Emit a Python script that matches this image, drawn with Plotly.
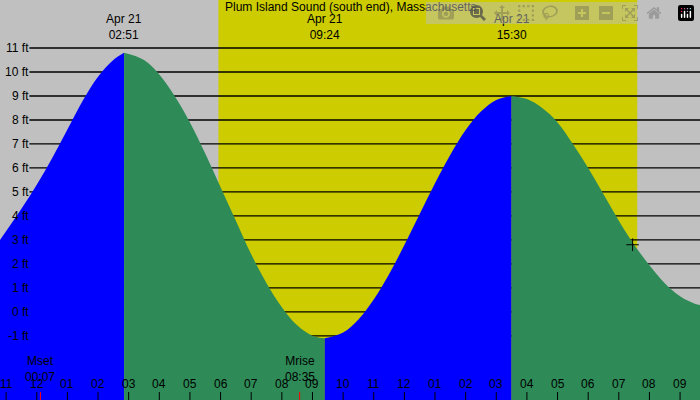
import plotly.graph_objects as go

# tide heights (ft), hours since 00:00 Apr 21
rise1_t = [-1.2, -0.5, 0, 0.5, 1, 1.5, 2, 2.5, 2.85]
rise1_h = [3.0, 4.3, 5.3, 6.4, 7.6, 8.8, 9.8, 10.5, 10.8]
fall1_t = [2.85, 3.5, 4, 4.5, 5, 5.5, 6, 6.5, 7, 7.5, 8, 8.5, 9, 9.4]
fall1_h = [10.8, 10.5, 9.9, 9.0, 7.9, 6.6, 5.2, 3.8, 2.4, 1.2, 0.2, -0.56, -0.99, -1.1]
rise2_t = [9.4, 10, 10.5, 11, 11.5, 12, 12.5, 13, 13.5, 14, 14.5, 15, 15.5]
rise2_h = [-1.1, -0.86, -0.31, 0.52, 1.57, 2.79, 4.08, 5.36, 6.55, 7.58, 8.35, 8.83, 9.0]
fall2_t = [15.5, 16, 16.5, 17, 17.5, 18, 18.5, 19, 19.5, 20, 20.5, 21, 21.5, 21.7]
fall2_h = [9.0, 8.87, 8.5, 7.9, 7.0, 6.0, 4.9, 3.8, 2.8, 1.95, 1.2, 0.65, 0.33, 0.28]

extreme_t = [2.85, 9.4, 15.5, 21.9]
extreme_lbl = ["Apr 21<br>02:51", "Apr 21<br>09:24", "Apr 21<br>15:30", "Apr 21<br>21:50"]
sunrise, sunset = 5.93, 19.6
moon_t = [0.12, 8.58]
moon_lbl = ["Mset<br>00:07", "Mrise<br>08:35"]
marker_t, marker_h = [19.45], [2.8]
hour_ticks = list(range(-1, 22))
hour_lbls = ["11", "12", "01", "02", "03", "04", "05", "06", "07", "08", "09", "10", "11",
             "12", "01", "02", "03", "04", "05", "06", "07", "08", "09"]
ft_vals = list(range(-1, 12))

X0, X1 = -1.2, 21.65
Y0, Y1 = -3.67, 13.0
BLUE, GREEN = "#0000ff", "#2e8b57"

fig = go.Figure()
for t, h, c in [(rise1_t, rise1_h, BLUE), (fall1_t, fall1_h, GREEN),
                (rise2_t, rise2_h, BLUE), (fall2_t, fall2_h, GREEN)]:
    fig.add_trace(go.Scatter(x=t, y=[Y0] * len(t), mode="lines", line=dict(width=0),
                             hoverinfo="skip"))
    fig.add_trace(go.Scatter(x=t, y=h, fill="tonexty", fillcolor=c, line_shape="spline",
                             line=dict(width=0, color=c), mode="lines", hoverinfo="skip"))
fig.add_trace(go.Scatter(x=marker_t, y=marker_h, mode="markers",
                         marker=dict(symbol="cross-thin", size=9, line=dict(width=1, color="black"))))

shapes = [dict(type="rect", xref="x", yref="paper", x0=sunrise, x1=sunset, y0=0, y1=1,
               fillcolor="#cccc00", line_width=0, layer="below")]
for v in ft_vals:
    shapes.append(dict(type="line", xref="paper", yref="y", x0=0.042, x1=1, y0=v, y1=v,
                       line=dict(color="black", width=1.3), layer="below"))
for t in hour_ticks:
    shapes.append(dict(type="line", xref="x", yref="paper", x0=t, x1=t, y0=0, y1=0.02,
                       line=dict(color="black", width=1)))
for t in moon_t:
    shapes.append(dict(type="line", xref="x", yref="paper", x0=t, x1=t, y0=0, y1=0.02,
                       line=dict(color="red", width=1)))

ann = [dict(x=0.5, y=1.005, xref="paper", yref="paper", text="Plum Island Sound (south end), Massachusetts",
            showarrow=False, yanchor="top")]
for t, l in zip(extreme_t, extreme_lbl):
    ann.append(dict(x=t, y=0.975, xref="x", yref="paper", text=l, showarrow=False, yanchor="top"))
for t, l in zip(moon_t, moon_lbl):
    ann.append(dict(x=t, y=0.12, xref="x", yref="paper", text=l, showarrow=False, yanchor="top"))
for t, l in zip(hour_ticks, hour_lbls):
    ann.append(dict(x=t, y=0.018, xref="x", yref="paper", text=l, showarrow=False, yanchor="bottom"))
for v in ft_vals:
    ann.append(dict(x=0.042, y=v, xref="paper", yref="y", text=f"{v} ft", showarrow=False,
                    xanchor="right", xshift=2))

fig.update_layout(width=700, height=400, margin=dict(l=0, r=0, t=0, b=0),
                  paper_bgcolor="#c0c0c0", plot_bgcolor="#c0c0c0", showlegend=False,
                  font=dict(family="Liberation Sans", size=12, color="black"),
                  xaxis=dict(range=[X0, X1], visible=False),
                  yaxis=dict(range=[Y0, Y1], visible=False),
                  shapes=shapes, annotations=ann)
fig.write_html("out.html", post_script="document.body.style.margin='0';document.body.style.overflow='hidden';")
